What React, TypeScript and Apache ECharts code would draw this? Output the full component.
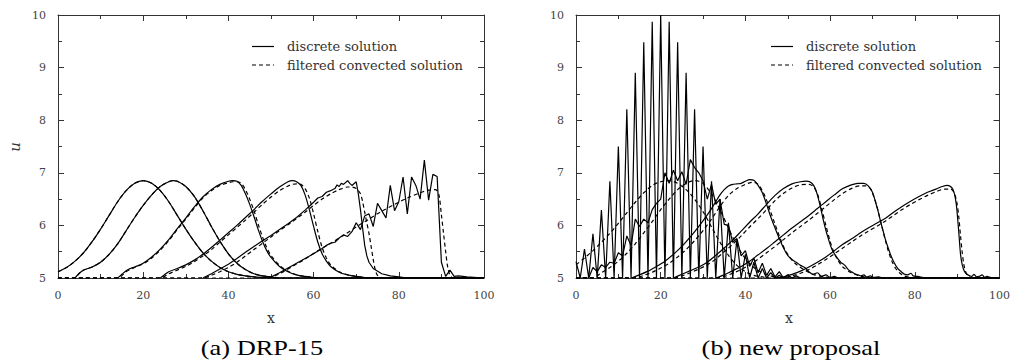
import React, { useEffect, useRef } from "react";
import * as echarts from "echarts";

// ---------- data: (a) DRP-15 ----------
const xTicks = [0, 20, 40, 60, 80, 100];
const yTicks = [5, 6, 7, 8, 9, 10];

const drpSolid0 = [[0,5.12],[2,5.2],[4,5.32],[6,5.48],[8,5.69],[10,5.93],[12,6.19],[14,6.45],[16,6.66],[18,6.8],[20,6.85],[22,6.8],[24,6.66],[26,6.45],[28,6.19],[30,5.93],[32,5.69],[34,5.48],[36,5.32],[38,5.2],[40,5.12],[42,5.07],[44,5.04],[46,5.02],[48,5.01],[50,5.0],[100,5.0]];
const drpSolid1 = [[4,5.0],[5,5.09],[6,5.15],[7,5.18],[8,5.21],[10,5.3],[12,5.45],[14,5.65],[16,5.9],[18,6.15],[20,6.38],[22,6.58],[24,6.74],[26,6.83],[27,6.85],[28,6.84],[30,6.74],[32,6.55],[34,6.28],[36,5.98],[38,5.7],[40,5.46],[42,5.28],[44,5.16],[46,5.08],[48,5.04],[50,5.02],[52,5.0],[100,5.0]];
const drpSolid2 = [[14,5.0],[15,5.07],[16,5.14],[17,5.18],[18,5.21],[20,5.28],[22,5.4],[24,5.55],[26,5.73],[28,5.94],[30,6.14],[32,6.35],[34,6.54],[36,6.68],[38,6.78],[40,6.84],[41,6.85],[42,6.84],[43,6.76],[44,6.6],[45,6.4],[46,6.17],[47,5.92],[48,5.7],[49,5.52],[50,5.39],[52,5.22],[54,5.12],[56,5.06],[58,5.03],[60,5.01],[62,5.0],[100,5.0]];
const drpDashed2 = [[0,5.0],[14,5.0],[16,5.12],[18,5.2],[20,5.27],[22,5.38],[24,5.53],[26,5.71],[28,5.92],[30,6.12],[32,6.33],[34,6.52],[36,6.66],[38,6.76],[40,6.81],[41,6.83],[42,6.83],[43,6.8],[44,6.68],[45,6.5],[46,6.28],[47,6.02],[48,5.78],[49,5.58],[50,5.43],[52,5.24],[54,5.13],[56,5.06],[58,5.03],[60,5.01],[62,5.0],[100,5.0]];
const drpSolid3 = [[24,5.0],[25,5.06],[26,5.12],[28,5.18],[30,5.25],[32,5.34],[34,5.45],[36,5.58],[38,5.72],[40,5.86],[42,6.0],[44,6.15],[46,6.3],[48,6.46],[50,6.6],[52,6.73],[54,6.83],[55,6.85],[56,6.83],[57,6.76],[58,6.58],[59,6.3],[60,5.98],[61,5.68],[62,5.46],[63,5.32],[64,5.22],[66,5.11],[68,5.06],[70,5.03],[72,5.01],[74,5.0],[100,5.0]];
const drpDashed3 = [[0,5.0],[24,5.0],[26,5.08],[28,5.15],[30,5.22],[32,5.31],[34,5.42],[36,5.54],[38,5.68],[40,5.82],[42,5.96],[44,6.1],[46,6.25],[48,6.4],[50,6.54],[52,6.66],[54,6.75],[55,6.78],[56,6.79],[57,6.78],[58,6.7],[59,6.52],[60,6.22],[61,5.88],[62,5.58],[63,5.38],[64,5.25],[66,5.12],[68,5.06],[70,5.03],[72,5.01],[74,5.0],[100,5.0]];
const drpSolid4 = [[34,5.0],[36,5.08],[38,5.17],[40,5.26],[42,5.37],[44,5.49],[46,5.6],[48,5.71],[50,5.81],[52,5.92],[54,6.03],[56,6.15],[58,6.29],[60,6.44],[61,6.52],[62,6.55],[63,6.63],[64,6.66],[65,6.7],[65.5,6.77],[66,6.74],[66.5,6.8],[67,6.78],[68,6.85],[68.5,6.8],[69,6.76],[70,6.83],[70.5,6.6],[71,6.3],[71.5,5.95],[72,5.62],[72.5,5.42],[73,5.3],[74,5.18],[76,5.08],[78,5.04],[80,5.02],[82,5.0],[100,5.0]];
const drpDashed4 = [[0,5.0],[34,5.0],[36,5.05],[38,5.12],[40,5.2],[42,5.3],[44,5.42],[46,5.54],[48,5.66],[50,5.78],[52,5.9],[54,6.01],[56,6.13],[58,6.25],[60,6.38],[62,6.5],[64,6.6],[66,6.68],[68,6.73],[69,6.73],[70,6.7],[71,6.6],[71.5,6.45],[72,6.25],[72.5,6.05],[73,5.85],[73.5,5.6],[74,5.35],[74.5,5.15],[75,5.05],[76,5.01],[78,5.0],[100,5.0]];
const drpSolid5 = [[49.5,5.0],[52,5.1],[54,5.19],[56,5.28],[58,5.37],[60,5.46],[62,5.56],[63,5.62],[64,5.66],[65,5.68],[66,5.76],[67,5.82],[68,5.79],[69,5.88],[70,6.05],[71,5.92],[72,6.18],[73,6.22],[74,5.98],[75,6.42],[76,6.28],[77,6.14],[78,6.76],[79,6.28],[80,6.45],[81,6.92],[82,6.22],[83,6.92],[84,6.76],[85,6.5],[86,7.24],[87,6.48],[88,6.97],[89,6.93],[90,5.3],[91,5.03],[92,5.15],[93,5.03],[94,5.04],[96,5.02],[100,5.0]];
const drpDashed5 = [[0,5.0],[49,5.0],[52,5.08],[55,5.22],[58,5.36],[61,5.52],[64,5.66],[67,5.81],[70,5.97],[73,6.12],[76,6.27],[79,6.4],[82,6.52],[85,6.62],[87,6.67],[88.5,6.68],[89,6.66],[89.5,6.55],[90,6.2],[90.5,5.85],[91,5.5],[91.5,5.2],[92,5.05],[92.5,5.01],[94,5.0],[100,5.0]];

// ---------- data: (b) new proposal ----------
const npSpike = [[0,5.31],[1,5.0],[2,5.55],[3,5.0],[4,5.84],[5,5.0],[6,6.29],[7,5.0],[8,6.84],[9,5.0],[10,7.5],[11,5.0],[12,8.21],[13,5.0],[14,8.9],[15,5.0],[16,9.48],[17,5.0],[18,9.87],[19,5.0],[20,10.0],[21,5.0],[22,9.87],[23,5.0],[24,9.48],[25,5.0],[26,8.9],[27,5.0],[28,8.21],[29,5.0],[30,7.5],[31,5.0],[32,6.84],[33,5.0],[34,6.5],[35,5.0],[36,6.05],[37,5.0],[38,5.73],[39,5.0],[40,5.45],[41,5.0],[42,5.3],[43,5.0],[44,5.18],[45,5.0],[46,5.1],[47,5.0],[48,5.05],[49,5.0],[100,5.0]];
const npOsc = [[0,5.0],[3,5.0],[4,5.2],[5,5.12],[6,5.25],[7,5.2],[8,5.3],[9,5.28],[10,5.48],[11,5.42],[12,5.8],[13,5.62],[14,6.12],[15,5.98],[16,6.12],[17,6.05],[18,6.3],[19,6.42],[20,6.5],[21,7.0],[22,6.8],[23,7.05],[24,6.85],[25,7.02],[26,6.78],[27,7.25],[28,7.1],[29,7.0],[30,6.85],[31,6.5],[32,6.78],[33,6.4],[34,6.5],[35,6.02],[36,6.0],[37,5.68],[38,5.75],[39,5.42],[40,5.52],[41,5.22],[42,5.38],[43,5.1],[44,5.28],[45,5.05],[46,5.18],[47,5.02],[48,5.12],[49,5.0],[50,5.06],[51,5.0],[52,5.04],[53,5.0],[100,5.0]];
const npDashed0 = [[0,5.25],[2,5.38],[4,5.52],[6,5.68],[8,5.85],[10,6.04],[12,6.24],[14,6.44],[16,6.62],[18,6.76],[20,6.83],[22,6.85],[24,6.8],[26,6.68],[28,6.5],[30,6.26],[32,5.97],[34,5.68],[36,5.43],[38,5.24],[40,5.12],[42,5.05],[44,5.02],[46,5.0],[100,5.0]];
const npDashed1 = [[0,5.0],[4,5.0],[6,5.1],[8,5.2],[10,5.32],[12,5.47],[14,5.65],[16,5.86],[18,6.07],[20,6.3],[22,6.5],[24,6.68],[26,6.8],[28,6.85],[29,6.84],[30,6.8],[32,6.6],[34,6.3],[36,5.95],[38,5.62],[40,5.37],[42,5.2],[44,5.1],[46,5.04],[48,5.01],[50,5.0],[100,5.0]];
const npSolid2 = [[13,5.0],[15,5.06],[17,5.13],[19,5.22],[21,5.32],[23,5.45],[25,5.6],[27,5.78],[29,5.98],[31,6.2],[32,6.32],[33,6.45],[34,6.58],[35,6.68],[36,6.75],[37,6.78],[38,6.79],[39,6.8],[40,6.84],[41,6.87],[42,6.86],[43,6.76],[44,6.62],[45,6.4],[46,6.16],[47,5.95],[48,5.75],[49,5.57],[50,5.43],[51,5.35],[52,5.3],[53,5.24],[54,5.2],[55,5.12],[56,5.07],[57,5.1],[58,5.03],[59,5.06],[60,5.01],[61,5.03],[62,5.0],[100,5.0]];
const npDashed2 = [[0,5.0],[14,5.0],[16,5.05],[18,5.11],[20,5.19],[22,5.28],[24,5.4],[26,5.54],[28,5.71],[30,5.9],[32,6.12],[34,6.36],[36,6.57],[38,6.7],[40,6.78],[41,6.81],[42,6.82],[43,6.78],[44,6.66],[45,6.48],[46,6.25],[47,6.02],[48,5.8],[49,5.6],[50,5.45],[51,5.34],[52,5.26],[54,5.15],[56,5.07],[58,5.03],[60,5.01],[62,5.0],[100,5.0]];
const npSolid3 = [[23,5.0],[25,5.07],[27,5.14],[29,5.21],[31,5.3],[33,5.43],[35,5.57],[37,5.72],[39,5.89],[41,6.06],[43,6.22],[45,6.4],[47,6.57],[49,6.7],[51,6.79],[53,6.83],[54.5,6.84],[55.7,6.8],[56.5,6.7],[57.2,6.52],[57.8,6.32],[58.4,6.1],[59.2,5.85],[60.4,5.55],[61.5,5.4],[62.5,5.3],[63.5,5.24],[64.3,5.16],[65,5.12],[65.8,5.08],[66.6,5.06],[67.3,5.04],[68,5.06],[68.6,5.02],[69.5,5.04],[70.3,5.01],[71.5,5.02],[72.5,5.0],[100,5.0]];
const npDashed3 = [[0,5.0],[23,5.0],[25,5.04],[27,5.1],[29,5.17],[31,5.25],[33,5.36],[35,5.5],[37,5.64],[39,5.8],[41,5.97],[43,6.13],[45,6.3],[47,6.47],[49,6.61],[51,6.71],[53,6.77],[55,6.78],[56,6.74],[57,6.6],[58,6.32],[59,6.0],[60,5.7],[61,5.47],[62,5.32],[63,5.21],[65,5.1],[67,5.04],[69,5.01],[71,5.0],[100,5.0]];
const npSolid4 = [[33,5.0],[35,5.06],[37,5.14],[39,5.22],[41,5.32],[43,5.44],[45,5.56],[47,5.69],[49,5.82],[51,5.95],[53,6.07],[55,6.19],[57,6.32],[59,6.45],[61,6.58],[63,6.7],[65,6.77],[66.5,6.8],[68,6.8],[69,6.75],[70,6.63],[70.7,6.45],[71.3,6.28],[72,6.05],[72.5,5.9],[73,5.75],[73.6,5.6],[74.4,5.42],[75.2,5.28],[76,5.18],[76.8,5.12],[77.6,5.07],[78.3,5.06],[79.1,5.09],[79.6,5.04],[80.7,5.03],[82,5.01],[83,5.0],[100,5.0]];
const npDashed4 = [[0,5.0],[33,5.0],[35,5.03],[37,5.09],[39,5.16],[41,5.25],[43,5.36],[45,5.48],[47,5.6],[49,5.73],[51,5.86],[53,5.98],[55,6.1],[57,6.23],[59,6.36],[61,6.49],[63,6.61],[65,6.7],[67,6.75],[68.5,6.75],[69.5,6.7],[70.3,6.55],[71,6.38],[71.7,6.15],[72.4,5.92],[73.1,5.7],[73.8,5.5],[74.6,5.32],[75.5,5.18],[76.5,5.09],[77.5,5.04],[79,5.01],[80,5.0],[100,5.0]];
const npSolid5 = [[47,5.0],[49,5.02],[51,5.07],[53,5.13],[55,5.21],[57,5.3],[59,5.4],[61,5.52],[63,5.64],[65,5.74],[67,5.85],[69,5.95],[71,6.04],[73,6.13],[75,6.25],[77,6.36],[79,6.46],[81,6.55],[83,6.63],[85,6.69],[86.5,6.74],[87.7,6.76],[88.7,6.72],[89.3,6.62],[89.8,6.4],[90.2,6.05],[90.5,5.75],[90.8,5.45],[91.2,5.25],[91.7,5.13],[92.3,5.07],[92.8,5.05],[93.4,5.03],[94,5.07],[94.6,5.02],[95.2,5.03],[95.9,5.06],[96.5,5.01],[97,5.03],[98,5.01],[100,5.0]];
const npDashed5 = [[0,5.0],[47,5.0],[49,5.01],[51,5.04],[53,5.09],[55,5.16],[57,5.25],[59,5.35],[61,5.46],[63,5.57],[65,5.68],[67,5.79],[69,5.89],[71,5.98],[73,6.08],[75,6.19],[77,6.3],[79,6.4],[81,6.49],[83,6.57],[85,6.64],[87,6.69],[88.5,6.69],[89.3,6.62],[89.9,6.45],[90.4,6.15],[90.8,5.8],[91.2,5.48],[91.6,5.25],[92.1,5.1],[92.7,5.03],[93.5,5.0],[100,5.0]];

const legendLabels = ["discrete solution", "filtered convected solution"];
const captions = ["(a) DRP-15", "(b) new proposal"];

const SERIF = "'DejaVu Serif', 'Liberation Serif', serif";
const TIMES = "'Liberation Serif', 'Times New Roman', serif";

function mkLine(data: number[][], dashed: boolean, axis: number, smooth: boolean) {
  return {
    type: "line",
    xAxisIndex: axis,
    yAxisIndex: axis,
    data,
    showSymbol: false,
    symbol: "none",
    smooth: smooth ? 0.3 : false,
    silent: true,
    clip: true,
    z: dashed ? 2 : 3,
    lineStyle: { color: "#000", width: 1.2, type: dashed ? [4, 3] : "solid" },
  };
}

function axisPair(grid: number, showLabels: boolean, pos: "bottom" | "top" | "left" | "right") {
  const isX = pos === "bottom" || pos === "top";
  return {
    type: "value",
    gridIndex: grid,
    position: pos,
    min: isX ? xTicks[0] : yTicks[0],
    max: isX ? xTicks[xTicks.length - 1] : yTicks[yTicks.length - 1],
    interval: isX ? 20 : 1,
    axisLine: { show: true, onZero: false, lineStyle: { color: "#333", width: 1 } },
    axisTick: { show: true, inside: true, length: 6, lineStyle: { color: "#333" } },
    minorTick: { show: true, splitNumber: 2, length: 4, lineStyle: { color: "#333" } },
    splitLine: { show: false },
    minorSplitLine: { show: false },
    axisLabel: {
      show: showLabels,
      margin: 12,
      fontFamily: SERIF,
      fontSize: 11,
      color: "#444",
    },
  };
}

export default function App() {
  const ref = useRef<HTMLDivElement>(null);
  useEffect(() => {
    if (!ref.current) return;
    const chart = echarts.init(ref.current, null, { renderer: "svg" });
    const grids = [
      { left: 58, top: 15, width: 426, height: 263 },
      { left: 576, top: 15, width: 426, height: 263 },
    ];
    const xAxes = [
      axisPair(0, true, "bottom"),
      axisPair(0, false, "top"),
      axisPair(1, true, "bottom"),
      axisPair(1, false, "top"),
    ];
    const yAxes = [
      axisPair(0, true, "left"),
      axisPair(0, false, "right"),
      axisPair(1, true, "left"),
      axisPair(1, false, "right"),
    ];
    const series: any[] = [
      mkLine(drpSolid0, true, 0, true),
      mkLine([[0, 5.0], ...drpSolid1], true, 0, true),
      mkLine(drpDashed2, true, 0, true),
      mkLine(drpDashed3, true, 0, true),
      mkLine(drpDashed4, true, 0, true),
      mkLine(drpDashed5, true, 0, true),
      mkLine(drpSolid0, false, 0, true),
      mkLine(drpSolid1, false, 0, true),
      mkLine(drpSolid2, false, 0, true),
      mkLine(drpSolid3, false, 0, true),
      mkLine(drpSolid4, false, 0, false),
      mkLine(drpSolid5, false, 0, false),
      mkLine(npDashed0, true, 2, true),
      mkLine(npDashed1, true, 2, true),
      mkLine(npDashed2, true, 2, true),
      mkLine(npDashed3, true, 2, true),
      mkLine(npDashed4, true, 2, true),
      mkLine(npDashed5, true, 2, true),
      mkLine(npSpike, false, 2, false),
      mkLine(npOsc, false, 2, false),
      mkLine(npSolid2, false, 2, true),
      mkLine(npSolid3, false, 2, true),
      mkLine(npSolid4, false, 2, true),
      mkLine(npSolid5, false, 2, true),
    ];
    const legendGraphic = (x0: number) => [
      { type: "line", shape: { x1: x0, y1: 46.5, x2: x0 + 22, y2: 46.5 }, style: { stroke: "#000", lineWidth: 1.2 } },
      { type: "line", shape: { x1: x0, y1: 65, x2: x0 + 22, y2: 65 }, style: { stroke: "#000", lineWidth: 1.2, lineDash: [4, 3] } },
      { type: "text", x: x0 + 35, y: 46.5, style: { text: legendLabels[0], font: `13px ${SERIF}`, fill: "#333", textVerticalAlign: "middle", textBaseline: "middle" } },
      { type: "text", x: x0 + 35, y: 65, style: { text: legendLabels[1], font: `13px ${SERIF}`, fill: "#333", textVerticalAlign: "middle", textBaseline: "middle" } },
    ];
    const graphic: any[] = [
      ...legendGraphic(252),
      ...legendGraphic(771),
      { type: "text", x: 15, y: 147, rotation: Math.PI / 2, style: { text: "u", font: `italic 15px ${SERIF}`, fill: "#333", textAlign: "center", textVerticalAlign: "middle", textBaseline: "middle" } },
      { type: "text", x: 271, y: 318, style: { text: "x", font: `14px ${SERIF}`, fill: "#333", textAlign: "center", textVerticalAlign: "middle", textBaseline: "middle" } },
      { type: "text", x: 789, y: 318, style: { text: "x", font: `14px ${SERIF}`, fill: "#333", textAlign: "center", textVerticalAlign: "middle", textBaseline: "middle" } },
      { type: "text", x: 262, y: 347, scaleX: 1.2, style: { text: captions[0], font: `22px ${TIMES}`, fill: "#000", textAlign: "center", textVerticalAlign: "middle", textBaseline: "middle" } },
      { type: "text", x: 791, y: 347, scaleX: 1.2, style: { text: captions[1], font: `22px ${TIMES}`, fill: "#000", textAlign: "center", textVerticalAlign: "middle", textBaseline: "middle" } },
    ];
    chart.setOption({
      animation: false,
      backgroundColor: "#fff",
      grid: grids,
      xAxis: xAxes,
      yAxis: yAxes,
      series,
      graphic,
    });
    return () => chart.dispose();
  }, []);
  return <div ref={ref} style={{ position: "fixed", left: 0, top: 0, width: 1013, height: 360 }} />;
}
